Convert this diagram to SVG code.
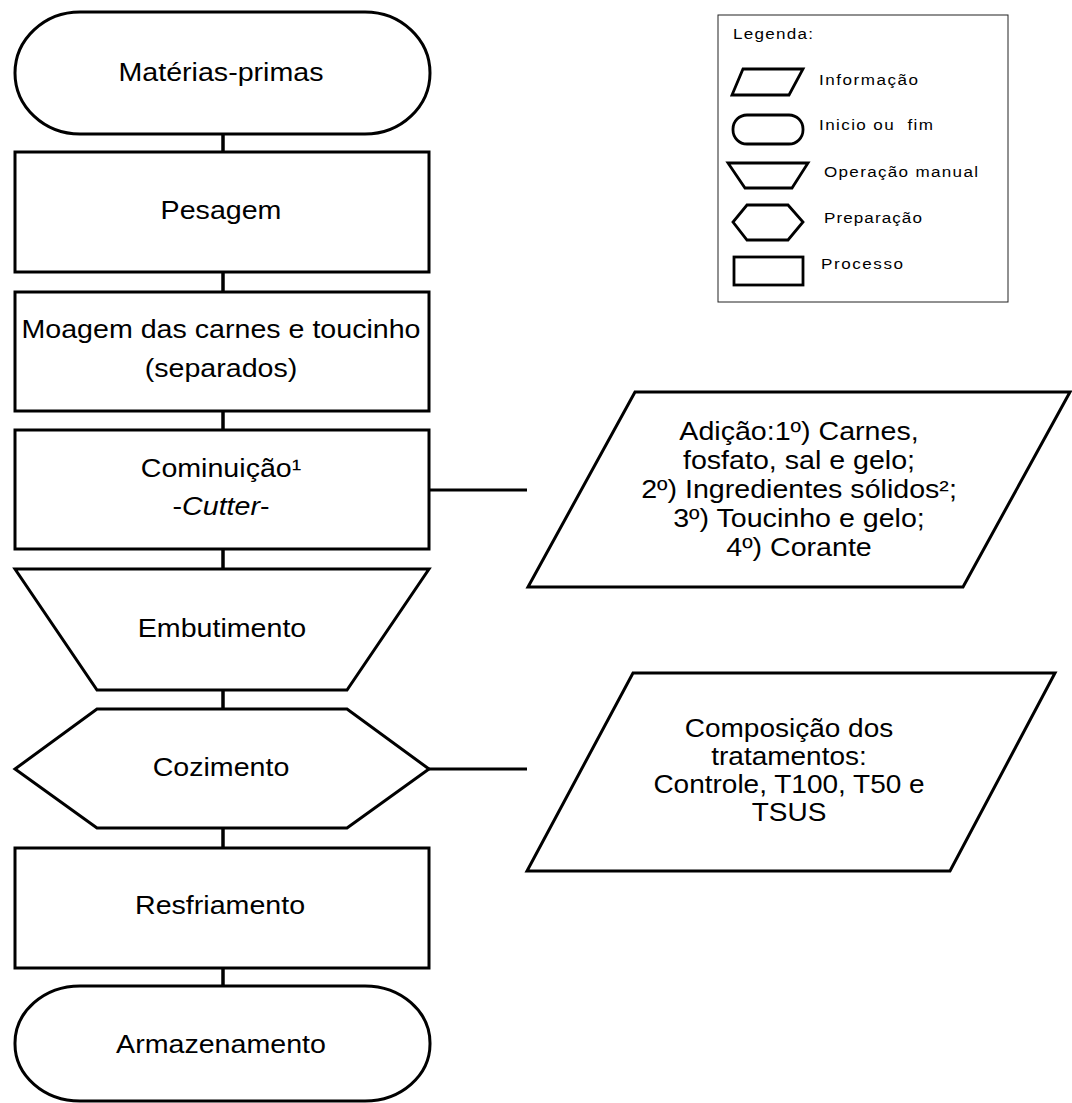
<svg xmlns="http://www.w3.org/2000/svg" width="1072" height="1103" viewBox="0 0 1072 1103">
<style>
.shape{fill:#fff;stroke:#000;stroke-width:3;stroke-linejoin:miter}
.conn{stroke:#000;stroke-width:3.5;fill:none}
.t{font-family:"Liberation Sans",Arial,sans-serif;font-size:26px;fill:#000;text-anchor:middle}
.t2{font-family:"Liberation Sans",Arial,sans-serif;font-size:25px;fill:#000;text-anchor:middle}
.lg{font-family:"Liberation Sans",Arial,sans-serif;font-size:15.5px;fill:#000;white-space:pre}
.icon{fill:#fff;stroke:#000;stroke-width:2.8}
</style>
<rect width="1072" height="1103" fill="#fff"/>
<g id="connectors">
<line class="conn" x1="223" y1="134" x2="223" y2="152"/>
<line class="conn" x1="223" y1="272" x2="223" y2="292"/>
<line class="conn" x1="223" y1="411" x2="223" y2="430"/>
<line class="conn" x1="223" y1="549" x2="223" y2="569"/>
<line class="conn" x1="223" y1="690" x2="223" y2="709"/>
<line class="conn" x1="223" y1="828" x2="223" y2="848"/>
<line class="conn" x1="223" y1="968" x2="223" y2="986"/>
<line class="conn" x1="429" y1="490" x2="527" y2="490" style="stroke-width:3"/>
<line class="conn" x1="429" y1="769" x2="527" y2="769" style="stroke-width:3"/>
</g>
<g id="materias-primas">
<rect class="shape" x="15" y="12" width="415" height="122" rx="65" ry="61"/>
<g transform="translate(221,0) scale(1.1,1)"><text class="t" x="0" y="81">Matérias-primas</text></g>
</g>
<g id="pesagem">
<rect class="shape" x="15" y="152" width="414" height="120"/>
<g transform="translate(221,0) scale(1.1,1)"><text class="t" x="0" y="219">Pesagem</text></g>
</g>
<g id="moagem">
<rect class="shape" x="15" y="292" width="414" height="119"/>
<g transform="translate(221,0) scale(1.1,1)"><text class="t" x="0" y="338">Moagem das carnes e toucinho</text><text class="t" x="0" y="377">(separados)</text></g>
</g>
<g id="cominuicao">
<rect class="shape" x="15" y="430" width="414" height="119"/>
<g transform="translate(221,0) scale(1.1,1)"><text class="t" x="0" y="477">Cominuição¹</text><text class="t" x="0" y="515">-<tspan font-style="italic">Cutter</tspan>-</text></g>
</g>
<g id="embutimento">
<polygon class="shape" points="15,569 429,569 347,690 97,690"/>
<g transform="translate(222,0) scale(1.1,1)"><text class="t" x="0" y="637">Embutimento</text></g>
</g>
<g id="cozimento">
<polygon class="shape" points="97,709 347,709 429,769 347,828 97,828 15,769"/>
<g transform="translate(221,0) scale(1.1,1)"><text class="t" x="0" y="776">Cozimento</text></g>
</g>
<g id="resfriamento">
<rect class="shape" x="15" y="848" width="414" height="120"/>
<g transform="translate(220,0) scale(1.1,1)"><text class="t" x="0" y="914">Resfriamento</text></g>
</g>
<g id="armazenamento">
<rect class="shape" x="15" y="986" width="415" height="115" rx="65" ry="57"/>
<g transform="translate(221,0) scale(1.1,1)"><text class="t" x="0" y="1053">Armazenamento</text></g>
</g>
<g id="info-adicao">
<polygon class="shape" points="635,392 1070,392 963,587 528,587"/>
<g transform="translate(799,0) scale(1.1,1)">
<text class="t" x="0" y="440">Adição:1º) Carnes,</text>
<text class="t" x="0" y="469">fosfato, sal e gelo;</text>
<text class="t" x="0" y="498">2º) Ingredientes sólidos²;</text>
<text class="t" x="0" y="527">3º) Toucinho e gelo;</text>
<text class="t" x="0" y="556">4º) Corante</text>
</g>
</g>
<g id="info-composicao">
<polygon class="shape" points="633,673 1055,673 950,871 527,871"/>
<g transform="translate(789,0) scale(1.12,1)">
<text class="t2" x="0" y="737">Composição dos</text>
<text class="t2" x="0" y="765">tratamentos:</text>
<text class="t2" x="0" y="793">Controle, T100, T50 e</text>
<text class="t2" x="0" y="821">TSUS</text>
</g>
</g>
<g id="legenda">
<rect x="718" y="15" width="290" height="287" fill="#fff" stroke="#222" stroke-width="1"/>
<text class="lg" x="733" y="39" transform="matrix(1.1,0,0,1,-73.3,0)" textLength="72.7" lengthAdjust="spacing">Legenda:</text>
<polygon class="icon" points="743,69 803,69 789,95 732,95"/>
<text class="lg" x="819" y="85" transform="matrix(1.1,0,0,1,-81.9,0)" textLength="90" lengthAdjust="spacing">Informação</text>
<rect class="icon" x="733" y="115" width="70" height="29" rx="14" ry="14"/>
<text class="lg" x="819" y="130" transform="matrix(1.1,0,0,1,-81.9,0)" textLength="103.6" lengthAdjust="spacing">Inicio ou  fim</text>
<polygon class="icon" points="728,163 808,163 792,188 745,188"/>
<text class="lg" x="824" y="177" transform="matrix(1.1,0,0,1,-82.4,0)" textLength="140" lengthAdjust="spacing">Operação manual</text>
<polygon class="icon" points="747,205 788,205 803,222 788,240 747,240 733,222"/>
<text class="lg" x="824" y="223" transform="matrix(1.1,0,0,1,-82.4,0)" textLength="89" lengthAdjust="spacing">Preparação</text>
<rect class="icon" x="734" y="257" width="69" height="28"/>
<text class="lg" x="821" y="269" transform="matrix(1.1,0,0,1,-82.1,0)" textLength="74.5" lengthAdjust="spacing">Processo</text>
</g>
</svg>
